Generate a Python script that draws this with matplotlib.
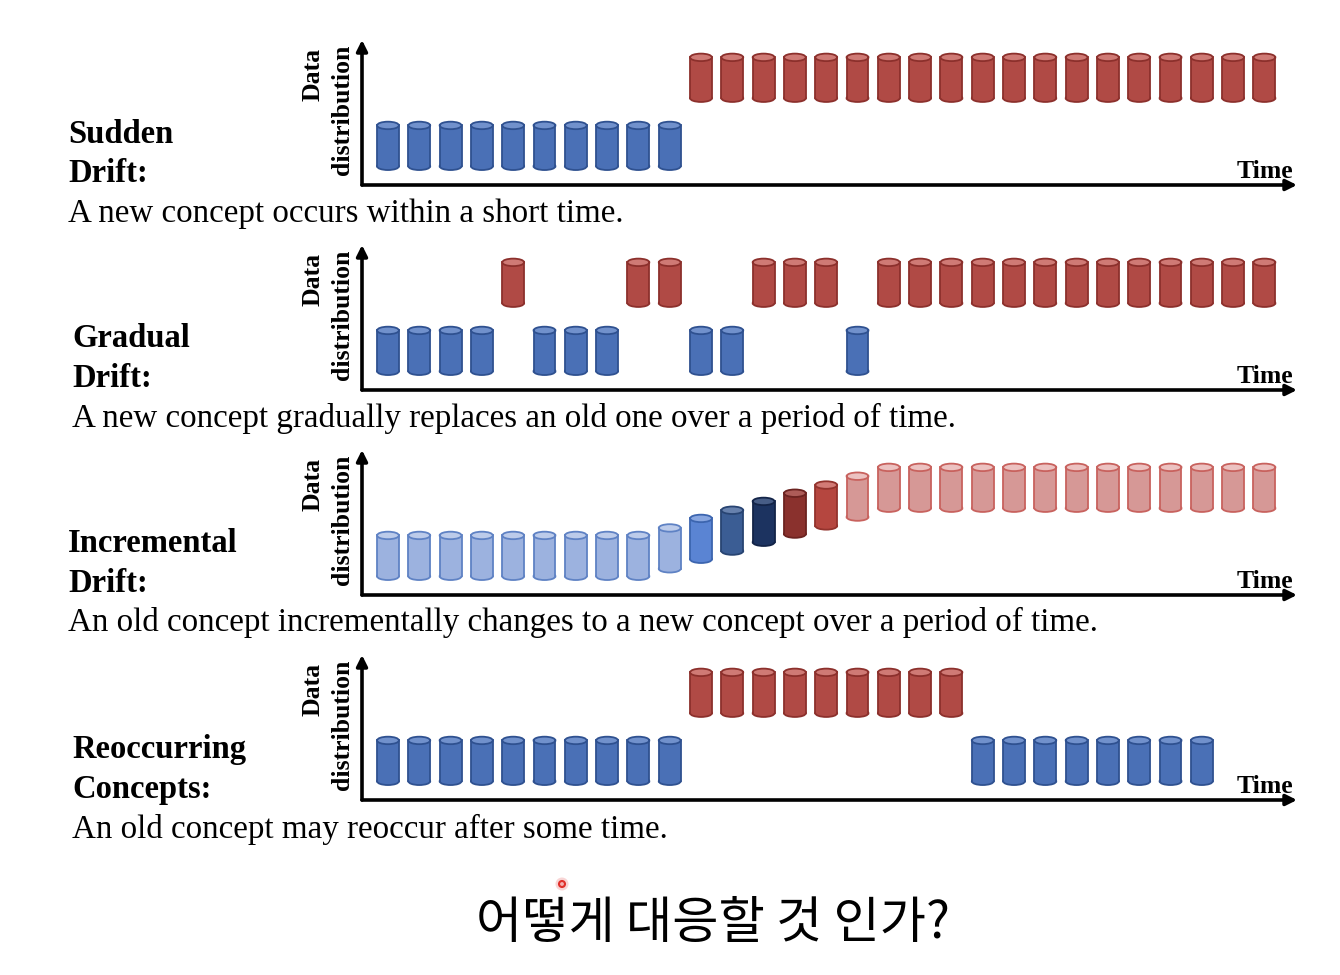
import matplotlib.pyplot as plt
from matplotlib.patches import Ellipse, Rectangle

W, H = 1340, 975

# concept level of each time slot: 0 = old concept, 1 = new concept
sudden = [0, 0, 0, 0, 0, 0, 0, 0, 0, 0,
          1, 1, 1, 1, 1, 1, 1, 1, 1, 1, 1, 1, 1, 1, 1, 1, 1, 1, 1]
gradual = [0, 0, 0, 0, 1, 0, 0, 0, 1, 1, 0, 0, 1, 1, 1, 0,
           1, 1, 1, 1, 1, 1, 1, 1, 1, 1, 1, 1, 1]
incremental = [0, 0, 0, 0, 0, 0, 0, 0, 0, 0.11, 0.25, 0.37, 0.50, 0.62, 0.74, 0.87,
               1, 1, 1, 1, 1, 1, 1, 1, 1, 1, 1, 1, 1]
incremental_stage = ['old', 'old', 'old', 'old', 'old', 'old', 'old', 'old', 'old', 'old',
                     'b1', 'b2', 'b3', 'r3', 'r2', 'new',
                     'new', 'new', 'new', 'new', 'new', 'new', 'new', 'new', 'new',
                     'new', 'new', 'new', 'new']
reoccurring = [0, 0, 0, 0, 0, 0, 0, 0, 0, 0,
               1, 1, 1, 1, 1, 1, 1, 1, 1,
               0, 0, 0, 0, 0, 0, 0, 0]

titles = [('Sudden', 'Drift:'), ('Gradual', 'Drift:'),
          ('Incremental', 'Drift:'), ('Reoccurring', 'Concepts:')]
descriptions = ['A new concept occurs within a short time.',
                'A new concept gradually replaces an old one over a period of time.',
                'An old concept incrementally changes to a new concept over a period of time.',
                'An old concept may reoccur after some time.']
question = '어떻게 대응할 것 인가?'

# (fill, edge, top face)
styles = {
    'blue': ('#4a70b6', '#2f5190', '#7191cc'),
    'red': ('#b04a45', '#8c302c', '#cf7a75'),
    'old': ('#9cb2df', '#5f82c4', '#bccbea'),
    'b1': ('#5a84d3', '#3c65af', '#88a6e0'),
    'b2': ('#3b5d94', '#284472', '#6781ad'),
    'b3': ('#1c3360', '#132448', '#475d86'),
    'r3': ('#8a312d', '#6c2320', '#ad5c58'),
    'r2': ('#b5463f', '#93332d', '#d27b76'),
    'new': ('#d69896', '#c8625e', '#ecc2c1'),
}

SERIF = 'Liberation Serif'


def fx(x):
    return x / W


def fy(y):
    return 1 - y / H


def cylinder(ax, x, y0, style, w=0.70, h=0.71, eh=0.11):
    fill, edge, top = styles[style]
    ax.add_patch(Ellipse((x, y0 + eh / 2), w, eh, fc=fill, ec=edge, lw=1.3))
    ax.add_patch(Rectangle((x - w / 2, y0 + eh / 2), w, h - eh, fc=fill, ec='none'))
    ax.plot([x - w / 2, x - w / 2], [y0 + eh / 2, y0 + h - eh / 2], color=edge, lw=1.3)
    ax.plot([x + w / 2, x + w / 2], [y0 + eh / 2, y0 + h - eh / 2], color=edge, lw=1.3)
    ax.add_patch(Ellipse((x, y0 + h - eh / 2), w, eh, fc=top, ec=edge, lw=1.3))


def draw_panel(fig, top_px, levels, stages):
    bottom_px = top_px + 145
    ax = fig.add_axes([fx(362), fy(bottom_px), fx(1297) - fx(362), 145 / H])
    ax.set_xlim(-0.83, 29.04)
    ax.set_ylim(-0.22, 1.91)
    ax.axis('off')
    for i, lev in enumerate(levels):
        cylinder(ax, i, lev, stages[i])

    arrow = dict(arrowstyle='-|>', lw=2.6, color='black', mutation_scale=16,
                 shrinkA=0, shrinkB=0)
    ax.annotate('', xy=(0, 1), xytext=(0, 0), xycoords='axes fraction',
                arrowprops=arrow, annotation_clip=False)
    ax.annotate('', xy=(1, 0), xytext=(0, 0), xycoords='axes fraction',
                arrowprops=arrow, annotation_clip=False)

    fig.text(fx(313), fy(top_px + 8), 'Data', rotation=90, ha='center', va='top',
             family=SERIF, weight='bold', fontsize=18.5)
    fig.text(fx(343), fy(top_px + 5), 'distribution', rotation=90, ha='center', va='top',
             family=SERIF, weight='bold', fontsize=18.5)
    fig.text(fx(1293), fy(bottom_px - 7), 'Time', ha='right', va='baseline',
             family=SERIF, weight='bold', fontsize=18.5)
    return ax


fig = plt.figure(figsize=(W / 100, H / 100), dpi=100)
fig.patch.set_facecolor('white')

panel_tops = [40, 245, 450, 655]
title_x = [68, 72, 68, 72]
title_base = [(143, 182), (347, 387), (552, 592), (758, 798)]
desc_base = [222, 427, 631, 838]

all_levels = [sudden, gradual, incremental, reoccurring]
all_stages = [['blue' if v == 0 else 'red' for v in sudden],
              ['blue' if v == 0 else 'red' for v in gradual],
              incremental_stage,
              ['blue' if v == 0 else 'red' for v in reoccurring]]

for k in range(4):
    draw_panel(fig, panel_tops[k], all_levels[k], all_stages[k])
    fig.text(fx(title_x[k]), fy(title_base[k][0]), titles[k][0], ha='left', va='baseline',
             family=SERIF, weight='bold', fontsize=23.5)
    fig.text(fx(title_x[k]), fy(title_base[k][1]), titles[k][1], ha='left', va='baseline',
             family=SERIF, weight='bold', fontsize=23.5)
    fig.text(fx(title_x[k]), fy(desc_base[k]), descriptions[k], ha='left', va='baseline',
             family=SERIF, fontsize=23.8)

fig.text(fx(713), fy(924), question, ha='center', va='center',
         family=['Noto Sans CJK KR', 'DejaVu Sans'], fontsize=36.2)

# small pointer mark
fig.patches.append(Ellipse((fx(562), fy(884)), 13 / W, 13 / H, transform=fig.transFigure,
                           fc='#f6c4c4', ec='none', alpha=0.7))
fig.patches.append(Ellipse((fx(562), fy(884)), 6 / W, 6 / H, transform=fig.transFigure,
                           fc='#f3b0b0', ec='#e0302a', lw=1.5))

fig.savefig('out.png', dpi=100, facecolor='white')
